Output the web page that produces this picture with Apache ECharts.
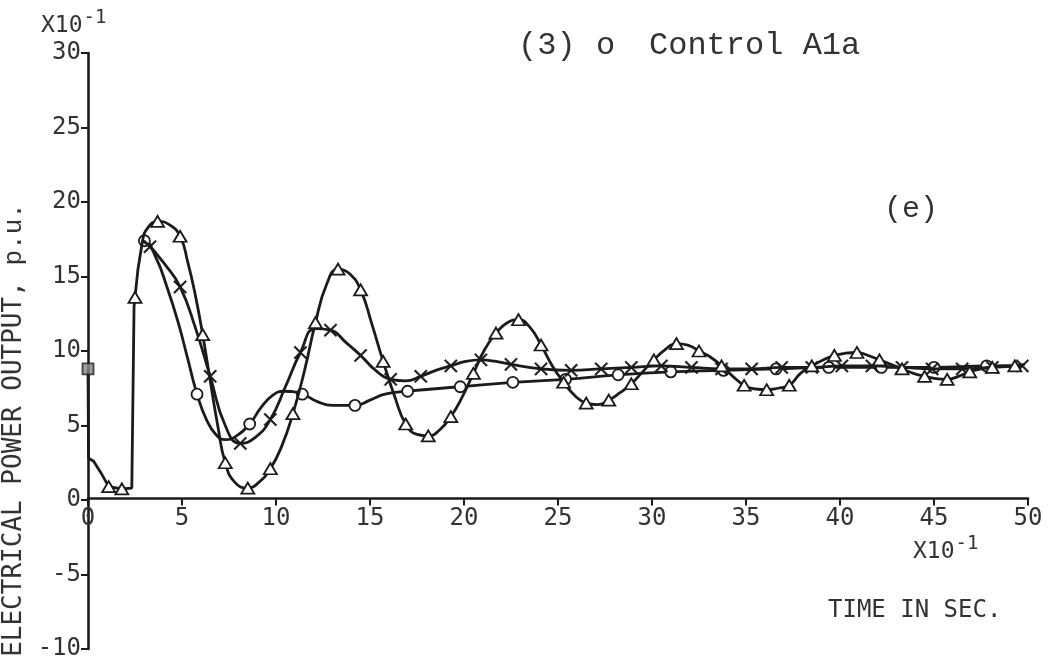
<!DOCTYPE html>
<html>
<head>
<meta charset="utf-8">
<title>Electrical power output</title>
<script src="https://cdn.jsdelivr.net/npm/echarts@6/dist/echarts.min.js"></script>
<style>
  html, body { margin: 0; padding: 0; background: #ffffff; }
  #chart { width: 1056px; height: 661px; }
</style>
</head>
<body>
<div id="chart"></div>
<script>
// Axis ticks (time in units of 0.1 s, power in units of 0.1 p.u.)
const xTickValues = [0, 5, 10, 15, 20, 25, 30, 35, 40, 45, 50];
const yTickValues = [-10, -5, 0, 5, 10, 15, 20, 25, 30];

// Common fault-on part of the response: pre-fault value, drop, and clearing jump
// [time, power, marker(1) or not(0)]
const faultSegment = [
  [0, 8.8, 0], [0.03, 2.8, 0], [0.3, 2.6, 0], [0.7, 1.8, 0], [1.1, 0.9, 1],
  [1.8, 0.75, 1], [2.33, 0.8, 0], [2.45, 13.0, 0], [2.5, 13.6, 0]
];

// Pre-fault operating point
const initialPoint = [[0, 8.8]];

// Triangle-marked response (largest swings)
const triangleCurve = [
  [2.5, 13.6, 1], [2.9, 17.4, 0], [3.2, 18.3, 0], [3.7, 18.7, 1], [4.3, 18.5, 0],
  [4.9, 17.7, 1], [5.3, 16.0, 0], [5.7, 13.8, 0], [6.1, 11.1, 1], [6.5, 8.0, 0],
  [6.9, 5.0, 0], [7.3, 2.5, 1], [7.8, 1.2, 0], [8.5, 0.8, 1], [9.1, 1.2, 0],
  [9.7, 2.1, 1], [10.3, 3.6, 0], [10.9, 5.8, 1], [11.5, 8.6, 0], [12.1, 11.9, 1],
  [12.7, 14.5, 0], [13.3, 15.5, 1], [13.9, 15.2, 0], [14.5, 14.1, 1], [15.1, 11.8, 0],
  [15.7, 9.3, 1], [16.3, 7.0, 0], [16.9, 5.1, 1], [17.5, 4.4, 0], [18.1, 4.3, 1],
  [18.7, 4.7, 0], [19.3, 5.6, 1], [19.9, 6.9, 0], [20.5, 8.5, 1], [21.1, 10.1, 0],
  [21.7, 11.2, 1], [22.3, 11.9, 0], [22.9, 12.1, 1], [23.5, 11.6, 0], [24.1, 10.4, 1],
  [24.7, 9.0, 0], [25.3, 7.9, 1], [25.9, 7.0, 0], [26.5, 6.5, 1], [27.1, 6.4, 0],
  [27.7, 6.7, 1], [28.3, 7.2, 0], [28.9, 7.8, 1], [29.5, 8.6, 0], [30.1, 9.4, 1],
  [30.7, 10.1, 0], [31.3, 10.5, 1], [31.9, 10.4, 0], [32.5, 10.0, 1], [33.1, 9.6, 0],
  [33.7, 9.0, 1], [34.3, 8.3, 0], [34.9, 7.7, 1], [35.5, 7.45, 0], [36.1, 7.4, 1],
  [36.7, 7.5, 0], [37.3, 7.7, 1], [37.9, 8.5, 0], [38.5, 9.0, 1], [39.1, 9.4, 0],
  [39.7, 9.7, 1], [40.3, 9.85, 0], [40.9, 9.9, 1], [41.5, 9.7, 0], [42.1, 9.4, 1],
  [42.7, 9.1, 0], [43.3, 8.8, 1], [43.9, 8.5, 0], [44.5, 8.3, 1], [45.1, 8.15, 0],
  [45.7, 8.1, 1], [46.3, 8.3, 0], [46.9, 8.6, 1], [47.5, 8.8, 0], [48.1, 8.9, 1],
  [48.7, 9.0, 0], [49.3, 9.0, 1], [49.8, 9.1, 0]
];

// Cross-marked response
const crossCurve = [
  [2.9, 17.4, 0], [3.3, 17.0, 1], [4.1, 15.8, 0], [4.9, 14.3, 1], [5.7, 11.6, 0],
  [6.5, 8.3, 1], [7.3, 5.0, 0], [8.1, 3.8, 1], [8.9, 4.2, 0], [9.7, 5.4, 1],
  [10.5, 7.6, 0], [11.3, 9.9, 1], [12.1, 11.5, 0], [12.9, 11.4, 1], [13.7, 10.6, 0],
  [14.5, 9.7, 1], [15.3, 8.7, 0], [16.1, 8.1, 1], [16.9, 8.0, 0], [17.7, 8.3, 1],
  [18.5, 8.7, 0], [19.3, 9.0, 1], [20.1, 9.3, 0], [20.9, 9.4, 1], [21.7, 9.3, 0],
  [22.5, 9.1, 1], [24.1, 8.8, 1], [25.7, 8.7, 1], [27.3, 8.8, 1], [28.9, 8.9, 1],
  [30.5, 9.0, 1], [32.1, 8.9, 1], [33.7, 8.8, 1], [35.3, 8.8, 1], [36.9, 8.9, 1],
  [38.5, 8.9, 1], [40.1, 9.0, 1], [41.7, 9.0, 1], [43.3, 8.9, 1], [44.9, 8.8, 1],
  [46.5, 8.8, 1], [48.1, 8.9, 1], [49.7, 9.0, 1]
];

// Circle-marked response (Control A1a)
const circleCurve = [
  [2.9, 17.4, 0], [3.0, 17.4, 1], [3.6, 16.3, 0], [4.2, 14.3, 0], [4.8, 11.9, 0],
  [5.3, 9.5, 0], [5.8, 7.1, 1], [6.3, 5.4, 0], [6.8, 4.4, 0], [7.3, 4.05, 0],
  [7.9, 4.3, 0], [8.6, 5.1, 1], [9.2, 6.2, 0], [9.8, 7.0, 0], [10.4, 7.3, 0],
  [11.4, 7.1, 1], [12.2, 6.6, 0], [13.0, 6.35, 0], [14.2, 6.35, 1], [15.0, 6.7, 0],
  [15.8, 7.1, 0], [17.0, 7.3, 1], [19.8, 7.6, 1], [22.6, 7.9, 1], [25.4, 8.1, 1],
  [28.2, 8.4, 1], [31.0, 8.6, 1], [33.8, 8.7, 1], [36.6, 8.8, 1], [39.4, 8.9, 1],
  [42.2, 8.9, 1], [45.0, 8.9, 1], [47.8, 9.0, 1], [49.7, 9.0, 0]
];

const INK = '#1b1b1b';
const TEXT_INK = '#333333';
const PLOT_FONT = 'DejaVu Sans Mono';
const TYPE_FONT = 'Liberation Mono';
const CROSS = 'path://M0,0.9L0.9,0L5,4.1L9.1,0L10,0.9L5.9,5L10,9.1L9.1,10L5,5.9L0.9,10L0,9.1L4.1,5Z';

const GRID = { left: 88, right: 28, top: 53, bottom: 6 };
const CHART_H = 661;

function curveSeries(points, symbol, size, fill, border, z) {
  return {
    type: 'line',
    smooth: 0.5,
    showSymbol: true,
    symbol: symbol,
    symbolSize: size,
    z: z,
    lineStyle: { color: INK, width: 2.8 },
    itemStyle: { color: fill, borderColor: INK, borderWidth: border },
    emphasis: { disabled: true },
    data: points.map(p => ({ value: [p[0], p[1]], symbol: p[2] ? symbol : 'none' }))
  };
}

// the time axis is drawn across the zero power level
const yMin = yTickValues[0], yMax = yTickValues[yTickValues.length - 1];
const plotH = CHART_H - GRID.top - GRID.bottom;
const zeroOffset = -plotH * (0 - yMin) / (yMax - yMin);

const chart = echarts.init(document.getElementById('chart'), null, { renderer: 'canvas' });

const axisText = { fontFamily: PLOT_FONT, fontSize: 24, color: TEXT_INK };
const unitRich = {
  a: { fontFamily: PLOT_FONT, fontSize: 23, fill: TEXT_INK, padding: [8, 0, 0, 0] },
  b: { fontFamily: PLOT_FONT, fontSize: 19, fill: TEXT_INK, padding: [0, 0, 7, 1] }
};

chart.setOption({
  animation: false,
  backgroundColor: '#ffffff',
  grid: Object.assign({ containLabel: false }, GRID),
  xAxis: {
    type: 'value',
    min: xTickValues[0],
    max: xTickValues[xTickValues.length - 1],
    interval: xTickValues[1] - xTickValues[0],
    offset: zeroOffset,
    axisLine: { show: true, onZero: false, lineStyle: { color: INK, width: 2.6 } },
    axisTick: { show: true, length: 7, lineStyle: { color: INK, width: 2 } },
    axisLabel: Object.assign({ margin: 8, showMinLabel: true, showMaxLabel: true }, axisText),
    splitLine: { show: false }
  },
  yAxis: {
    type: 'value',
    min: yMin,
    max: yMax,
    interval: yTickValues[1] - yTickValues[0],
    axisLine: { show: true, onZero: false, lineStyle: { color: INK, width: 2.6 } },
    axisTick: { show: true, length: 7, lineStyle: { color: INK, width: 2 } },
    axisLabel: Object.assign({ margin: 7, verticalAlign: 'middle', padding: [0, 0, 13, 0],
      showMinLabel: true, showMaxLabel: true }, axisText),
    splitLine: { show: false }
  },
  series: [
    {
      type: 'line',
      smooth: false,
      showSymbol: true,
      symbol: 'triangle',
      symbolSize: [13, 11],
      z: 2,
      lineStyle: { color: INK, width: 2.8 },
      itemStyle: { color: '#ffffff', borderColor: INK, borderWidth: 1.8 },
      emphasis: { disabled: true },
      data: faultSegment.map(p => ({ value: [p[0], p[1]], symbol: p[2] ? 'triangle' : 'none' }))
    },
    curveSeries(circleCurve, 'circle', 11, '#ffffff', 1.8, 3),
    curveSeries(crossCurve, CROSS, 13, INK, 0.6, 4),
    curveSeries(triangleCurve, 'triangle', [13, 11], '#ffffff', 1.8, 5),
    {
      type: 'scatter',
      symbol: 'rect',
      symbolSize: 11,
      z: 6,
      itemStyle: { color: '#8a8a8a', borderColor: INK, borderWidth: 1.8 },
      emphasis: { disabled: true },
      data: initialPoint
    }
  ],
  graphic: [
    {
      type: 'text', left: 41, top: 9,
      style: { text: '{a|X10}{b|-1}', rich: unitRich }
    },
    {
      type: 'text', left: 913, top: 535,
      style: { text: '{a|X10}{b|-1}', rich: unitRich }
    },
    {
      type: 'text', left: 828, top: 599,
      style: { text: 'TIME IN SEC.', fontFamily: PLOT_FONT, fontSize: 24, fill: TEXT_INK }
    },
    {
      type: 'text', x: 14, y: 430, rotation: Math.PI / 2,
      style: {
        text: '{a|ELECTRICAL POWER OUTPUT,}{b| p.u.}',
        align: 'center', verticalAlign: 'middle',
        rich: {
          a: { fontFamily: PLOT_FONT, fontSize: 26, fill: TEXT_INK },
          b: { fontFamily: TYPE_FONT, fontSize: 26, fill: TEXT_INK }
        }
      }
    },
    {
      type: 'text', left: 518, top: 30,
      style: { text: '(3)', fontFamily: TYPE_FONT, fontSize: 32, fill: TEXT_INK }
    },
    {
      type: 'text', left: 596, top: 30,
      style: { text: 'o', fontFamily: TYPE_FONT, fontSize: 32, fill: TEXT_INK }
    },
    {
      type: 'text', left: 649, top: 30,
      style: { text: 'Control A1a', fontFamily: TYPE_FONT, fontSize: 32, fill: TEXT_INK }
    },
    {
      type: 'text', left: 884, top: 194,
      style: { text: '(e)', fontFamily: TYPE_FONT, fontSize: 30, fill: TEXT_INK }
    }
  ]
});
</script>
</body>
</html>
